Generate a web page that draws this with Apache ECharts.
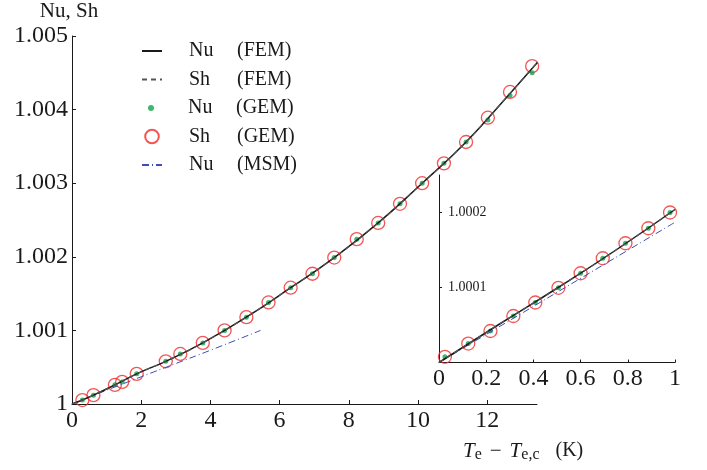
<!DOCTYPE html>
<html>
<head>
<meta charset="utf-8">
<script src="https://cdn.jsdelivr.net/npm/echarts@6/dist/echarts.min.js"></script>
<style>
  html, body { margin: 0; padding: 0; background: #fff; }
  #chart { width: 707px; height: 470px; }
</style>
</head>
<body>
<div id="chart"></div>
<script>
  // main plot: GEM points
  var mainX = [0.30, 0.62, 1.24, 1.45, 1.87, 2.71, 3.13, 3.78, 4.41, 5.04, 5.68, 6.32, 6.95, 7.58, 8.23, 8.85, 9.48, 10.12, 10.75, 11.39, 12.02, 12.66, 13.30]
  var mainSh = [1.000054, 1.00012, 1.00026, 1.0003, 1.00041, 1.00058, 1.00068, 1.00083, 1.001, 1.00118, 1.00138, 1.00158, 1.00177, 1.00199, 1.00224, 1.00246, 1.00272, 1.003, 1.00327, 1.00356, 1.00389, 1.00424, 1.00459]
  var mainNu = [1.000054, 1.00012, 1.00026, 1.0003, 1.00041, 1.00058, 1.00068, 1.00083, 1.001, 1.00118, 1.00138, 1.00158, 1.00177, 1.00199, 1.00224, 1.00246, 1.00272, 1.003, 1.00327, 1.00356, 1.00386, 1.00419, 1.0045]
  // main plot: FEM curve
  var femX = [0, 0.3, 0.62, 1.24, 1.87, 2.71, 3.78, 5.04, 6.32, 7.58, 8.85, 10.12, 11.39, 12.66, 13.45]
  var femY = [1, 1.000054, 1.00012, 1.00026, 1.00041, 1.00058, 1.00083, 1.00118, 1.00158, 1.00199, 1.00246, 1.003, 1.00356, 1.00422, 1.00464]
  // main plot: MSM
  var msmX = [0, 1, 2, 3, 4, 5.45]
  var msmY = [1, 1.000187, 1.00037, 1.00055, 1.00073, 1.001]

  // inset
  var insetX = [0.025, 0.124, 0.218, 0.315, 0.408, 0.506, 0.60, 0.694, 0.79, 0.887, 0.979]
  var insetSh = [1.0000076, 1.0000253, 1.000042, 1.000062, 1.00008, 1.0000996, 1.000119, 1.000139, 1.000159, 1.000179, 1.0002]
  var insetNu = [1.0000076, 1.0000253, 1.000042, 1.000062, 1.00008, 1.0000996, 1.000119, 1.000139, 1.000159, 1.000179, 1.0002]
  var insetFemX = [0, 0.25, 0.5, 0.75, 1]
  var insetFemY = [1, 1.00005, 1.000099, 1.00015, 1.000204]
  var insetMsmX = [0, 0.5, 1]
  var insetMsmY = [1, 1.0000935, 1.000187]

  // ticks
  var mainXTicks = [0, 2, 4, 6, 8, 10, 12]
  var mainYTicks = [1, 1.001, 1.002, 1.003, 1.004, 1.005]
  var insetXTicks = [0, 0.2, 0.4, 0.6, 0.8, 1]
  var insetYTicks = [1.0001, 1.0002]

  var legendNames = ['Nu (FEM)', 'Sh (FEM)', 'Nu (GEM)', 'Sh (GEM)', 'Nu (MSM)']

  var FONT = 'Liberation Serif'
  var RED = '#f02a2a', GREEN = '#11a54a', BLUE = '#3d4db3', BLACK = '#1a1a1a'

  function zip(xs, ys) {
    return xs.map(function (x, i) { return [x, ys[i]] })
  }

  function seriesFor(gi, d) {
    return [
      {
        name: 'Nu (MSM)', type: 'line', xAxisIndex: gi, yAxisIndex: gi,
        data: zip(d.msmX, d.msmY), symbol: 'none', smooth: true,
        lineStyle: { color: BLUE, width: 1, type: [7, 3, 1, 3] }, itemStyle: { color: BLUE }
      },
      {
        name: 'Nu (FEM)', type: 'line', xAxisIndex: gi, yAxisIndex: gi,
        data: zip(d.femX, d.femY), symbol: 'none', smooth: true,
        lineStyle: { color: BLACK, width: 1.5 }, itemStyle: { color: BLACK }
      },
      {
        name: 'Sh (FEM)', type: 'line', xAxisIndex: gi, yAxisIndex: gi,
        data: zip(d.femX, d.femY), symbol: 'none', smooth: true,
        lineStyle: { color: '#555', width: 1.2, type: [5, 4] }, itemStyle: { color: '#555' }
      },
      {
        name: 'Sh (GEM)', type: 'scatter', xAxisIndex: gi, yAxisIndex: gi,
        data: zip(d.x, d.sh), symbol: 'circle', symbolSize: 13,
        itemStyle: { color: 'rgba(255,255,255,0)', borderColor: RED, borderWidth: 1.3 }
      },
      {
        name: 'Nu (GEM)', type: 'scatter', xAxisIndex: gi, yAxisIndex: gi,
        data: zip(d.x, d.nu), symbol: 'circle', symbolSize: 5,
        itemStyle: { color: GREEN }
      }
    ]
  }

  var axisLineStyle = { show: true, lineStyle: { color: BLACK, width: 1 } }

  // legend icons: fixed 20x14 box so every row lines up
  var legendIcons = {
    'Nu (GEM)': 'path://M0,0M20,14M13,7A3,3,0,1,1,7,7A3,3,0,1,1,13,7Z',
    'Sh (GEM)': 'path://M0,0M20,14M16.8,7A6.8,6.8,0,1,1,3.2,7A6.8,6.8,0,1,1,16.8,7Z'
  }
  var legendRowY = [51, 79.5, 108, 136.5, 165]

  var legends = legendNames.map(function (name, i) {
    var item = { name: name }
    if (legendIcons[name]) item.icon = legendIcons[name]
    else item.itemStyle = { opacity: 0 }
    return {
      data: [item], orient: 'vertical', left: 141, top: legendRowY[i] - 10, padding: 0,
      itemWidth: 20, itemHeight: 14, selectedMode: false,
      formatter: function (n) {
        var p = n.split(' ')
        return '{a|' + p[0] + '}{b|' + p[1] + '}'
      },
      textStyle: {
        fontFamily: FONT, fontSize: 20, color: BLACK, padding: [0, 0, 0, 22],
        rich: {
          a: { fontFamily: FONT, fontSize: 20, color: BLACK, width: 48, lineHeight: 20 },
          b: { fontFamily: FONT, fontSize: 20, color: BLACK, lineHeight: 20 }
        }
      }
    }
  })

  var chart = echarts.init(document.getElementById('chart'))
  var option = {
    animation: false,
    backgroundColor: '#fff',
    legend: legends,
    grid: [
      { left: 72, top: 36, width: 465, height: 368, containLabel: false, outerBoundsMode: 'none' },
      { left: 439, top: 175, width: 236, height: 187.5, containLabel: false, outerBoundsMode: 'none' }
    ],
    xAxis: [
      {
        type: 'value', gridIndex: 0, min: 0, max: 13.44,
        splitLine: { show: false }, axisLine: axisLineStyle,
        axisTick: { inside: true, length: 4, customValues: mainXTicks, lineStyle: { color: BLACK } },
        axisLabel: { customValues: mainXTicks, fontFamily: FONT, fontSize: 24, color: BLACK, margin: 5 }
      },
      {
        type: 'value', gridIndex: 1, min: 0, max: 1,
        splitLine: { show: false }, axisLine: axisLineStyle,
        axisTick: { inside: true, length: 3, customValues: insetXTicks, lineStyle: { color: BLACK } },
        axisLabel: { customValues: insetXTicks, fontFamily: FONT, fontSize: 24, color: BLACK, margin: 4 }
      }
    ],
    yAxis: [
      {
        type: 'value', gridIndex: 0, min: 1, max: 1.005,
        name: 'Nu, Sh', nameLocation: 'end', nameGap: 14,
        nameTextStyle: { fontFamily: FONT, fontSize: 21, color: BLACK, align: 'center', padding: [0, 6, 0, 0] },
        splitLine: { show: false }, axisLine: axisLineStyle,
        axisTick: { inside: true, length: 4, customValues: mainYTicks, lineStyle: { color: BLACK } },
        axisLabel: {
          customValues: mainYTicks, fontFamily: FONT, fontSize: 24, color: BLACK, margin: 4,
          formatter: function (v) { return Math.abs(v - 1) < 1e-9 ? '1' : v.toFixed(3) }
        }
      },
      {
        type: 'value', gridIndex: 1, min: 1, max: 1.00025,
        splitLine: { show: false }, axisLine: axisLineStyle,
        axisTick: { inside: true, length: 3, customValues: insetYTicks, lineStyle: { color: BLACK } },
        axisLabel: {
          customValues: insetYTicks, inside: true, margin: 9, fontFamily: FONT, fontSize: 14, color: BLACK,
          formatter: function (v) { return v.toFixed(4) }
        }
      }
    ],
    graphic: [
      {
        type: 'text', left: 463, top: 439,
        style: {
          text: '{i|T}{s|e}{m|−}{i|T}{s|e,c}{k|(K)}',
          fill: BLACK,
          rich: {
            i: { fontFamily: FONT, fontSize: 21, fontStyle: 'italic', lineHeight: 22, fill: BLACK },
            s: { fontFamily: FONT, fontSize: 16, lineHeight: 16, padding: [8, 0, 0, 0], fill: BLACK },
            m: { fontFamily: FONT, fontSize: 21, lineHeight: 22, padding: [0, 8, 0, 8], fill: BLACK },
            k: { fontFamily: FONT, fontSize: 20, lineHeight: 22, padding: [0, 0, 0, 16], fill: BLACK }
          }
        }
      }
    ],
    series: seriesFor(0, { msmX: msmX, msmY: msmY, femX: femX, femY: femY, x: mainX, sh: mainSh, nu: mainNu })
      .concat(seriesFor(1, { msmX: insetMsmX, msmY: insetMsmY, femX: insetFemX, femY: insetFemY, x: insetX, sh: insetSh, nu: insetNu }))
  }
  chart.setOption(option)
</script>
</body>
</html>
